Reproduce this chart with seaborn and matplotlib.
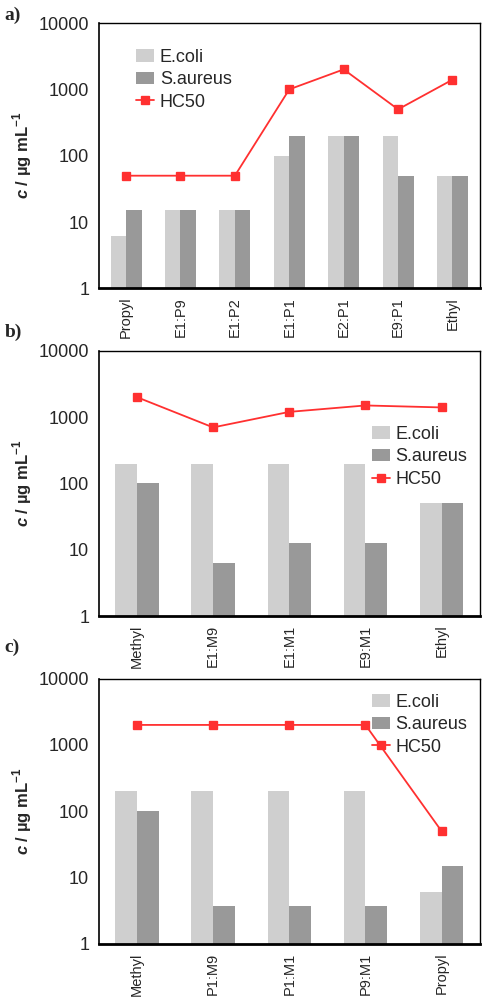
import numpy as np
import matplotlib
matplotlib.use("Agg")
import matplotlib.pyplot as plt
import pandas as pd
import seaborn as sns

# values (c in ug/mL)
cats_a = ["Propyl", "E1:P9", "E1:P2", "E1:P1", "E2:P1", "E9:P1", "Ethyl"]
ecoli_a = [6.25, 15, 15, 100, 200, 200, 50]
saureus_a = [15, 15, 15, 200, 200, 50, 50]
hc50_a = [50, 50, 50, 1000, 2000, 500, 1400]

cats_b = ["Methyl", "E1:M9", "E1:M1", "E9:M1", "Ethyl"]
ecoli_b = [200, 200, 200, 200, 50]
saureus_b = [100, 6.25, 12.5, 12.5, 50]
hc50_b = [2000, 700, 1200, 1500, 1400]

cats_c = ["Methyl", "P1:M9", "P1:M1", "P9:M1", "Propyl"]
ecoli_c = [200, 200, 200, 200, 6]
saureus_c = [100, 3.75, 3.75, 3.75, 15]
hc50_c = [2000, 2000, 2000, 2000, 50]

panels = [
    ("a)", 0.985, cats_a, ecoli_a, saureus_a, hc50_a,
     dict(loc="upper left", bbox_to_anchor=(0.065, 0.95))),
    ("b)", 0.668, cats_b, ecoli_b, saureus_b, hc50_b,
     dict(loc="center right", bbox_to_anchor=(1.0, 0.6))),
    ("c)", 0.353, cats_c, ecoli_c, saureus_c, hc50_c,
     dict(loc="upper right", bbox_to_anchor=(1.0, 0.99))),
]

sns.set_style("white")
plt.rcParams['font.family'] = ['Liberation Sans', 'DejaVu Sans']
plt.rcParams['mathtext.fontset'] = 'custom'
plt.rcParams['mathtext.bf'] = 'Liberation Sans:bold'
plt.rcParams['mathtext.bfit'] = 'Liberation Sans:italic:bold'

fig, axes = plt.subplots(3, 1, figsize=(4.87, 10.01), dpi=100)
fig.subplots_adjust(left=0.203, right=0.985, top=0.977, bottom=0.057, hspace=0.235)

for ax, (tag, tag_y, cats, ec, sa, hc, legkw) in zip(axes, panels):
    df = pd.DataFrame({
        "cat": cats * 2,
        "val": list(ec) + list(sa),
        "strain": ["E.coli"] * len(cats) + ["S.aureus"] * len(cats),
    })
    ax.set_yscale("log")
    sns.barplot(data=df, x="cat", y="val", hue="strain", order=cats,
                palette=["#cfcfcf", "#999999"], width=0.57, gap=0,
                saturation=1, errorbar=None, linewidth=0, edgecolor="none", ax=ax)
    sns.pointplot(x=cats, y=hc, order=cats, color="#ff3030", markers="s",
                  markersize=6, linewidth=1.3, errorbar=None, label="HC50", ax=ax)

    ax.set_ylim(1, 10000)
    ax.set_xlim(-0.5, len(cats) - 0.5)
    ax.set_yticks([1, 10, 100, 1000, 10000], labels=["1", "10", "100", "1000", "10000"])
    ax.minorticks_off()
    ax.set_xticks(np.arange(len(cats)) + 0.5, minor=True)
    ax.tick_params(axis="x", which="major", length=0, labelrotation=90, labelsize=10.5, pad=6)
    ax.tick_params(axis="x", which="minor", direction="inout", length=9, width=1.5, color="black")
    ax.tick_params(axis="y", which="major", direction="inout", length=6, width=1,
                   color="black", labelsize=13, pad=4)
    ax.set_xlabel("")
    ax.set_ylabel(r"$\mathbfit{c}$ / µg mL$^{\mathbf{-1}}$", fontsize=12, fontweight="bold", labelpad=3)

    for side in ["top", "right", "left"]:
        ax.spines[side].set_color("black")
        ax.spines[side].set_linewidth(1.0)
    ax.spines["left"].set_linewidth(1.2)
    ax.spines["bottom"].set_color("black")
    ax.spines["bottom"].set_linewidth(2.0)

    ax.legend(frameon=False, fontsize=13, handlelength=1.0, handletextpad=0.3,
              labelspacing=0.3, borderaxespad=0.3, **legkw)

    fig.text(0.01, tag_y, tag, fontsize=14, family="Liberation Serif",
             fontweight="bold", va="center", ha="left")

fig.savefig("out.png", dpi=100)
